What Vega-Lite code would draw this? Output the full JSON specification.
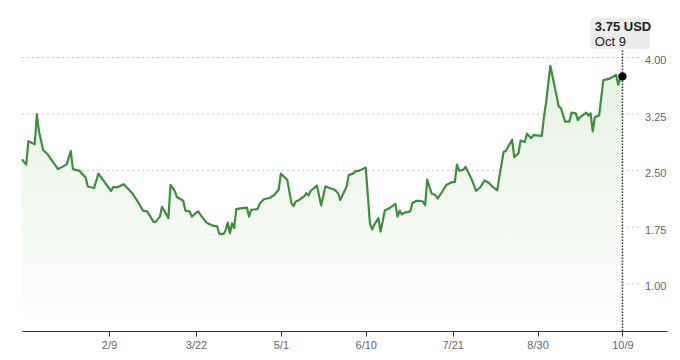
{
  "$schema": "https://vega.github.io/schema/vega-lite/v6.json",
  "width": 645,
  "height": 331,
  "autosize": {"type": "none"},
  "padding": {"left": 22, "top": 0, "right": 13, "bottom": 29},
  "background": "#ffffff",
  "config": {
    "view": {"stroke": null},
    "font": "Liberation Sans",
    "axisX": {"domainColor": "#333333", "tickColor": "#333333", "tickSize": 5, "labelColor": "#666666", "labelFontSize": 11, "labelPadding": 3, "grid": false, "labelFlush": false, "title": null, "zindex": 1},
    "axisY": {"domain": false, "ticks": false, "tickSize": 0, "grid": false, "labelColor": "#666666", "labelFontSize": 11, "labelAlign": "right", "labelPadding": -1, "labelBaseline": "alphabetic", "labelOffset": 6, "title": null, "zindex": 1}
  },
  "datasets": {
    "prices": [
      {"date": "2022-12-30", "value": 2.65},
      {"date": "2023-01-01", "value": 2.58},
      {"date": "2023-01-02", "value": 2.89},
      {"date": "2023-01-05", "value": 2.85},
      {"date": "2023-01-06", "value": 3.25},
      {"date": "2023-01-07", "value": 3.02},
      {"date": "2023-01-09", "value": 2.77},
      {"date": "2023-01-11", "value": 2.72},
      {"date": "2023-01-13", "value": 2.64},
      {"date": "2023-01-14", "value": 2.60},
      {"date": "2023-01-16", "value": 2.52},
      {"date": "2023-01-20", "value": 2.58},
      {"date": "2023-01-22", "value": 2.76},
      {"date": "2023-01-23", "value": 2.52},
      {"date": "2023-01-26", "value": 2.50},
      {"date": "2023-01-29", "value": 2.41},
      {"date": "2023-01-30", "value": 2.29},
      {"date": "2023-02-02", "value": 2.27},
      {"date": "2023-02-04", "value": 2.46},
      {"date": "2023-02-10", "value": 2.23},
      {"date": "2023-02-11", "value": 2.28},
      {"date": "2023-02-13", "value": 2.28},
      {"date": "2023-02-16", "value": 2.32},
      {"date": "2023-02-20", "value": 2.20},
      {"date": "2023-02-23", "value": 2.07},
      {"date": "2023-02-25", "value": 1.97},
      {"date": "2023-02-27", "value": 1.96},
      {"date": "2023-03-02", "value": 1.82},
      {"date": "2023-03-03", "value": 1.82},
      {"date": "2023-03-05", "value": 1.89},
      {"date": "2023-03-06", "value": 2.02},
      {"date": "2023-03-09", "value": 1.87},
      {"date": "2023-03-10", "value": 2.31},
      {"date": "2023-03-12", "value": 2.23},
      {"date": "2023-03-13", "value": 2.15},
      {"date": "2023-03-16", "value": 2.10},
      {"date": "2023-03-17", "value": 1.97},
      {"date": "2023-03-19", "value": 1.96},
      {"date": "2023-03-20", "value": 1.89},
      {"date": "2023-03-23", "value": 1.96},
      {"date": "2023-03-25", "value": 1.88},
      {"date": "2023-03-27", "value": 1.81},
      {"date": "2023-03-30", "value": 1.77},
      {"date": "2023-04-01", "value": 1.76},
      {"date": "2023-04-02", "value": 1.66},
      {"date": "2023-04-04", "value": 1.66},
      {"date": "2023-04-05", "value": 1.71},
      {"date": "2023-04-06", "value": 1.81},
      {"date": "2023-04-07", "value": 1.67},
      {"date": "2023-04-08", "value": 1.80},
      {"date": "2023-04-09", "value": 1.74},
      {"date": "2023-04-10", "value": 1.99},
      {"date": "2023-04-12", "value": 2.00},
      {"date": "2023-04-15", "value": 2.01},
      {"date": "2023-04-16", "value": 1.89},
      {"date": "2023-04-17", "value": 1.98},
      {"date": "2023-04-20", "value": 1.99},
      {"date": "2023-04-21", "value": 2.06},
      {"date": "2023-04-23", "value": 2.12},
      {"date": "2023-04-26", "value": 2.14},
      {"date": "2023-04-28", "value": 2.18},
      {"date": "2023-04-30", "value": 2.25},
      {"date": "2023-05-01", "value": 2.46},
      {"date": "2023-05-04", "value": 2.38},
      {"date": "2023-05-06", "value": 2.07},
      {"date": "2023-05-07", "value": 2.03},
      {"date": "2023-05-08", "value": 2.09},
      {"date": "2023-05-09", "value": 2.10},
      {"date": "2023-05-12", "value": 2.16},
      {"date": "2023-05-13", "value": 2.20},
      {"date": "2023-05-14", "value": 2.17},
      {"date": "2023-05-15", "value": 2.23},
      {"date": "2023-05-18", "value": 2.30},
      {"date": "2023-05-20", "value": 2.04},
      {"date": "2023-05-22", "value": 2.29},
      {"date": "2023-05-26", "value": 2.25},
      {"date": "2023-05-27", "value": 2.23},
      {"date": "2023-05-28", "value": 2.20},
      {"date": "2023-05-29", "value": 2.11},
      {"date": "2023-06-01", "value": 2.29},
      {"date": "2023-06-02", "value": 2.44},
      {"date": "2023-06-04", "value": 2.46},
      {"date": "2023-06-05", "value": 2.49},
      {"date": "2023-06-07", "value": 2.50},
      {"date": "2023-06-10", "value": 2.54},
      {"date": "2023-06-12", "value": 1.80},
      {"date": "2023-06-13", "value": 1.72},
      {"date": "2023-06-14", "value": 1.78},
      {"date": "2023-06-16", "value": 1.87},
      {"date": "2023-06-17", "value": 1.69},
      {"date": "2023-06-19", "value": 1.97},
      {"date": "2023-06-21", "value": 2.00},
      {"date": "2023-06-24", "value": 2.06},
      {"date": "2023-06-25", "value": 1.89},
      {"date": "2023-06-26", "value": 1.97},
      {"date": "2023-06-27", "value": 1.92},
      {"date": "2023-06-28", "value": 1.94},
      {"date": "2023-07-01", "value": 1.96},
      {"date": "2023-07-02", "value": 2.07},
      {"date": "2023-07-04", "value": 2.10},
      {"date": "2023-07-05", "value": 2.10},
      {"date": "2023-07-07", "value": 2.09},
      {"date": "2023-07-08", "value": 2.04},
      {"date": "2023-07-09", "value": 2.38},
      {"date": "2023-07-11", "value": 2.20},
      {"date": "2023-07-13", "value": 2.17},
      {"date": "2023-07-14", "value": 2.13},
      {"date": "2023-07-16", "value": 2.22},
      {"date": "2023-07-18", "value": 2.31},
      {"date": "2023-07-20", "value": 2.34},
      {"date": "2023-07-22", "value": 2.35},
      {"date": "2023-07-23", "value": 2.58},
      {"date": "2023-07-24", "value": 2.50},
      {"date": "2023-07-26", "value": 2.51},
      {"date": "2023-07-27", "value": 2.55},
      {"date": "2023-07-29", "value": 2.44},
      {"date": "2023-07-30", "value": 2.38},
      {"date": "2023-08-01", "value": 2.23},
      {"date": "2023-08-03", "value": 2.28},
      {"date": "2023-08-05", "value": 2.37},
      {"date": "2023-08-07", "value": 2.34},
      {"date": "2023-08-09", "value": 2.28},
      {"date": "2023-08-11", "value": 2.24},
      {"date": "2023-08-12", "value": 2.42},
      {"date": "2023-08-14", "value": 2.75},
      {"date": "2023-08-15", "value": 2.76},
      {"date": "2023-08-18", "value": 2.91},
      {"date": "2023-08-19", "value": 2.68},
      {"date": "2023-08-21", "value": 2.73},
      {"date": "2023-08-22", "value": 2.90},
      {"date": "2023-08-24", "value": 2.88},
      {"date": "2023-08-25", "value": 2.99},
      {"date": "2023-08-27", "value": 2.93},
      {"date": "2023-08-28", "value": 2.97},
      {"date": "2023-09-01", "value": 2.96},
      {"date": "2023-09-02", "value": 3.21},
      {"date": "2023-09-03", "value": 3.40},
      {"date": "2023-09-05", "value": 3.89},
      {"date": "2023-09-09", "value": 3.35},
      {"date": "2023-09-10", "value": 3.33},
      {"date": "2023-09-12", "value": 3.15},
      {"date": "2023-09-14", "value": 3.15},
      {"date": "2023-09-15", "value": 3.27},
      {"date": "2023-09-17", "value": 3.26},
      {"date": "2023-09-18", "value": 3.17},
      {"date": "2023-09-19", "value": 3.21},
      {"date": "2023-09-22", "value": 3.27},
      {"date": "2023-09-23", "value": 3.23},
      {"date": "2023-09-24", "value": 3.26},
      {"date": "2023-09-25", "value": 3.02},
      {"date": "2023-09-26", "value": 3.21},
      {"date": "2023-09-28", "value": 3.23},
      {"date": "2023-09-30", "value": 3.70},
      {"date": "2023-10-03", "value": 3.72},
      {"date": "2023-10-06", "value": 3.77},
      {"date": "2023-10-07", "value": 3.64},
      {"date": "2023-10-08", "value": 3.73},
      {"date": "2023-10-09", "value": 3.75}
    ],
    "grid": [{"v": 1.0}, {"v": 1.75}, {"v": 2.5}, {"v": 3.25}, {"v": 4.0}],
    "latest": [{"date": "2023-10-09", "value": 3.75, "price": "3.75 USD", "day": "Oct 9"}]
  },
  "layer": [
    {
      "data": {"name": "grid"},
      "mark": {"type": "rule", "color": "#cccccc", "strokeWidth": 1, "strokeDash": [2, 3]},
      "encoding": {
        "x": {"datum": {"year": 2022, "month": 12, "date": 30, "utc": true}, "type": "temporal"},
        "x2": {"datum": {"year": 2023, "month": 10, "date": 18, "utc": true}},
        "y": {"field": "v", "type": "quantitative"}
      }
    },
    {
      "data": {"name": "prices"},
      "mark": {
        "type": "area",
        "color": {"gradient": "linear", "x1": 0, "y1": 0, "x2": 0, "y2": 1, "stops": [{"offset": 0, "color": "#e5f2e1"}, {"offset": 1, "color": "#ffffff"}]}
      },
      "encoding": {
        "x": {
          "field": "date", "type": "temporal",
          "scale": {"type": "utc", "domain": [{"year": 2022, "month": 12, "date": 30, "utc": true}, {"year": 2023, "month": 10, "date": 30, "utc": true}]},
          "axis": {
            "format": "%-m/%-d",
            "values": [
              {"year": 2023, "month": 2, "date": 9, "utc": true},
              {"year": 2023, "month": 3, "date": 22, "utc": true},
              {"year": 2023, "month": 5, "date": 1, "utc": true},
              {"year": 2023, "month": 6, "date": 10, "utc": true},
              {"year": 2023, "month": 7, "date": 21, "utc": true},
              {"year": 2023, "month": 8, "date": 30, "utc": true},
              {"year": 2023, "month": 10, "date": 9, "utc": true}
            ]
          },
          "title": null
        },
        "y": {
          "field": "value", "type": "quantitative",
          "scale": {"domain": [0.373, 4.763], "zero": false, "nice": false},
          "axis": {"orient": "right", "values": [1, 1.75, 2.5, 3.25, 4], "format": ".2f"},
          "title": null
        },
        "y2": {"datum": 0.373}
      }
    },
    {
      "data": {"name": "prices"},
      "mark": {"type": "line", "color": "#408c40", "strokeWidth": 2.2, "strokeJoin": "round"},
      "encoding": {
        "x": {"field": "date", "type": "temporal"},
        "y": {"field": "value", "type": "quantitative"}
      }
    },
    {
      "data": {"name": "latest"},
      "mark": {"type": "rule", "color": "#333333", "strokeWidth": 1.5, "strokeDash": [1.5, 1.5]},
      "encoding": {
        "x": {"field": "date", "type": "temporal"},
        "y": {"datum": 0.373},
        "y2": {"datum": 4.113}
      }
    },
    {
      "data": {"name": "latest"},
      "mark": {"type": "point", "filled": true, "color": "#000000", "size": 70, "opacity": 1},
      "encoding": {
        "x": {"field": "date", "type": "temporal"},
        "y": {"field": "value", "type": "quantitative"}
      }
    },
    {
      "data": {"name": "latest"},
      "mark": {"type": "rect", "color": "#ececec", "cornerRadius": 3},
      "encoding": {
        "x": {"datum": {"year": 2023, "month": 9, "date": 24, "utc": true}, "type": "temporal"},
        "x2": {"datum": {"year": 2023, "month": 10, "date": 22, "utc": true}},
        "y": {"datum": 4.113},
        "y2": {"datum": 4.524}
      }
    },
    {
      "data": {"name": "latest"},
      "mark": {"type": "text", "align": "left", "baseline": "alphabetic", "fontSize": 13, "fontWeight": 600, "color": "#222222"},
      "encoding": {
        "x": {"datum": {"year": 2023, "month": 9, "date": 26, "utc": true}, "type": "temporal"},
        "y": {"datum": 4.355},
        "text": {"field": "price"}
      }
    },
    {
      "data": {"name": "latest"},
      "mark": {"type": "text", "align": "left", "baseline": "alphabetic", "fontSize": 13, "color": "#222222"},
      "encoding": {
        "x": {"datum": {"year": 2023, "month": 9, "date": 26, "utc": true}, "type": "temporal"},
        "y": {"datum": 4.153},
        "text": {"field": "day"}
      }
    }
  ]
}
